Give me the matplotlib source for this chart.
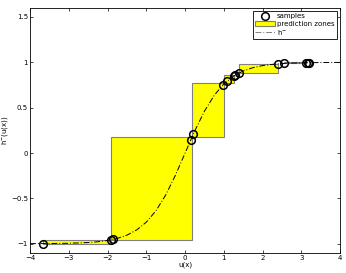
import matplotlib
matplotlib.use("Agg")
import matplotlib.pyplot as plt
from matplotlib.patches import Rectangle

# curve h^-(u)
curve_u = [-4.0, -3.5, -3.0, -2.5, -2.25, -2.0, -1.75, -1.5, -1.25, -1.0, -0.75, -0.5, -0.25,
           0.0, 0.25, 0.5, 0.75, 1.0, 1.25, 1.5, 1.75, 2.0, 2.25, 2.5, 3.0, 3.5, 4.0]
curve_h = [-0.999, -0.998, -0.995, -0.987, -0.978, -0.964, -0.941, -0.905, -0.848, -0.762, -0.635, -0.462, -0.245,
           0.0, 0.245, 0.462, 0.635, 0.762, 0.848, 0.905, 0.941, 0.964, 0.978, 0.987, 0.995, 0.998, 0.999]

# samples
samples_u = [-3.67, -1.91, -1.85, 0.15, 0.21, 0.97, 1.08, 1.25, 1.30, 1.39, 2.39, 2.54, 3.12, 3.16, 3.19]
samples_h = [-0.999, -0.957, -0.952, 0.149, 0.207, 0.750, 0.793, 0.848, 0.862, 0.883, 0.983, 0.988, 0.996, 0.996, 0.997]

# prediction zones: u ranges and h ranges
zone_u0 = [-3.67, -1.90, 0.19, 1.01, 1.385, 2.54]
zone_u1 = [-1.90, 0.19, 1.01, 1.27, 2.39, 3.12]
zone_h0 = [-0.999, -0.955, 0.18, 0.77, 0.88, 0.995]
zone_h1 = [-0.955, 0.18, 0.77, 0.855, 0.985, 1.0]

fig = plt.figure(figsize=(3.46, 2.73), dpi=100)
ax = fig.add_axes([0.087, 0.074, 0.896, 0.897])

fs = 5
for u0, u1, h0, h1 in zip(zone_u0, zone_u1, zone_h0, zone_h1):
    ax.add_patch(Rectangle((u0, h0), u1 - u0, h1 - h0, facecolor="#ffff00",
                           edgecolor="#808080", linewidth=0.8, zorder=2))

ax.plot(samples_u, samples_h, "o", mfc="none", mec="black", ms=5.5, mew=1.1, zorder=4)
ax.plot(curve_u, curve_h, color="black", ls=(0, (6, 2, 1, 2)), lw=0.7, zorder=3)

h_samp = plt.Line2D([], [], marker="o", ls="none", mfc="none", mec="black", ms=5.5, mew=1.1)
h_zone = Rectangle((0, 0), 1, 1, facecolor="#ffff00", edgecolor="#808060", linewidth=0.8)
h_line = plt.Line2D([], [], color="#808080", ls=(0, (6, 2, 1, 2)), lw=0.7)
leg = ax.legend([h_samp, h_zone, h_line], ["samples", "prediction zones", "h$^{-}$"],
                loc="upper right", fontsize=fs, fancybox=False, framealpha=1,
                edgecolor="black", borderpad=0.3, labelspacing=0.15,
                handlelength=2.8, handletextpad=0.3, borderaxespad=0.5)
leg.get_frame().set_linewidth(0.6)

ax.set_xlim(-4, 4)
ax.set_ylim(-1.1, 1.6)
ax.set_xticks(range(-4, 5))
ax.set_yticks([-1, -0.5, 0, 0.5, 1, 1.5])
ax.set_yticklabels(["\u22121", "\u22120.5", "0", "0.5", "1", "1.5"])
ax.tick_params(direction="in", top=True, right=True, labelsize=fs, length=2.5, width=0.5, pad=1.5)
for s in ax.spines.values():
    s.set_linewidth(0.6)
ax.set_xlabel("u(x)", fontsize=fs, labelpad=0.5)
ax.set_ylabel("h$^{-}$(u(x))", fontsize=fs, labelpad=0.5)

fig.savefig("out.png", dpi=100)
